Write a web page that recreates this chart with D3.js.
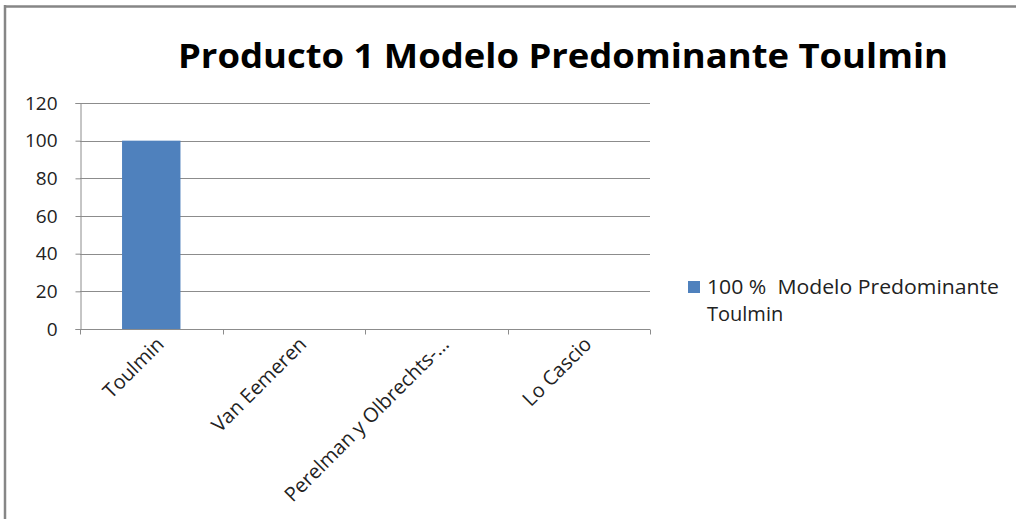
<!DOCTYPE html>
<meta charset="utf-8">
<head>
  <title>Producto 1</title>
  <style>
    body { margin: 0; background: #fff; }
    text { font-family: "Open Sans", sans-serif; white-space: pre; }
  </style>
</head>
<body>
<script src="https://d3js.org/d3.v7.min.js"></script>
<script>

const categories = ["Toulmin", "Van Eemeren", "Perelman y Olbrechts-…", "Lo Cascio"];
const values = [100, 0, 0, 0];
const yTicks = [0, 20, 40, 60, 80, 100, 120];
const seriesName = ["100 %  Modelo Predominante", "Toulmin"];
const title = "Producto 1 Modelo Predominante Toulmin";

const W = 1016, H = 519;
const plot = {left: 80, right: 650, top: 103, bottom: 329};
const labelFont = "19px";

const svg = d3.select("body").append("svg")
    .attr("width", W)
    .attr("height", H);

// outer frame (only top + left edge visible)
svg.append("line").attr("x1", 4).attr("x2", W).attr("y1", 6.5).attr("y2", 6.5)
  .style("stroke", "#868686").style("stroke-width", 2.5);
svg.append("line").attr("x1", 5).attr("x2", 5).attr("y1", 5).attr("y2", H)
  .style("stroke", "#868686").style("stroke-width", 2.5);

const x = d3.scaleBand()
    .domain(categories)
    .range([plot.left, plot.right])
    .paddingInner(0.59)
    .paddingOuter(0.295);

const xTicks = d3.scaleBand().domain(categories).range([plot.left, plot.right]);

const y = d3.scaleLinear()
    .domain([0, 120])
    .range([plot.bottom, plot.top]);

// gridlines
svg.append("g")
  .selectAll("line")
  .data(yTicks.filter(d => d > 0))
  .join("line")
  .attr("x1", plot.left).attr("x2", plot.right)
  .attr("y1", d => Math.round(y(d)) + 0.5).attr("y2", d => Math.round(y(d)) + 0.5)
  .style("stroke", "#8c8c8c").style("stroke-width", 1);

// bars
svg.append("g")
  .selectAll("rect")
  .data(categories.map((c, i) => ({c, v: values[i]})))
  .join("rect")
  .attr("x", d => x(d.c))
  .attr("width", x.bandwidth())
  .attr("y", d => y(d.v))
  .attr("height", d => y(0) - y(d.v))
  .style("fill", "#4f81bd");

// y axis
const yAxis = svg.append("g")
  .attr("transform", "translate(" + (plot.left + 0.5) + ",0)")
  .call(d3.axisLeft(y).tickValues(yTicks).tickSize(5).tickPadding(18));
yAxis.select(".domain").style("stroke", "#8c8c8c");
yAxis.selectAll(".tick line").style("stroke", "#8c8c8c");
yAxis.selectAll(".tick text")
  .style("font-size", labelFont).style("fill", "#222")
  .style("font-family", "'Open Sans', sans-serif");

// x axis
const xAxis = svg.append("g")
  .attr("transform", "translate(0," + (plot.bottom + 0.5) + ")");
xAxis.append("line")
  .attr("x1", plot.left).attr("x2", plot.right)
  .style("stroke", "#8c8c8c");
xAxis.selectAll("line.tk")
  .data(categories.concat(["end"]))
  .join("line")
  .attr("class", "tk")
  .attr("x1", (d, i) => Math.round(i < categories.length ? xTicks(d) : plot.right) + 0.5)
  .attr("x2", (d, i) => Math.round(i < categories.length ? xTicks(d) : plot.right) + 0.5)
  .attr("y1", 0).attr("y2", 5)
  .style("stroke", "#8c8c8c");
xAxis.selectAll("text")
  .data(categories)
  .join("text")
  .attr("transform", d => "translate(" + (xTicks(d) + xTicks.bandwidth() / 2 + 14) + ",16) rotate(-45)")
  .attr("text-anchor", "end")
  .style("font-size", "20px").style("fill", "#222")
  .text(d => d);

// title
svg.append("text")
  .attr("x", 563).attr("y", 68)
  .attr("text-anchor", "middle")
  .attr("textLength", 770)
  .attr("lengthAdjust", "spacingAndGlyphs")
  .style("font-size", "34px").style("font-weight", "bold").style("fill", "#000")
  .text(title);

// legend
svg.append("rect")
  .attr("x", 688).attr("y", 281).attr("width", 12).attr("height", 12)
  .style("fill", "#4f81bd");
svg.selectAll("text.legend")
  .data(seriesName)
  .join("text")
  .attr("class", "legend")
  .attr("x", 707)
  .attr("y", (d, i) => 294 + i * 27)
  .attr("textLength", (d, i) => i ? null : 292)
  .attr("lengthAdjust", "spacingAndGlyphs")
  .style("font-size", "20px").style("fill", "#222")
  .text(d => d);

</script>
</body>
</html>
